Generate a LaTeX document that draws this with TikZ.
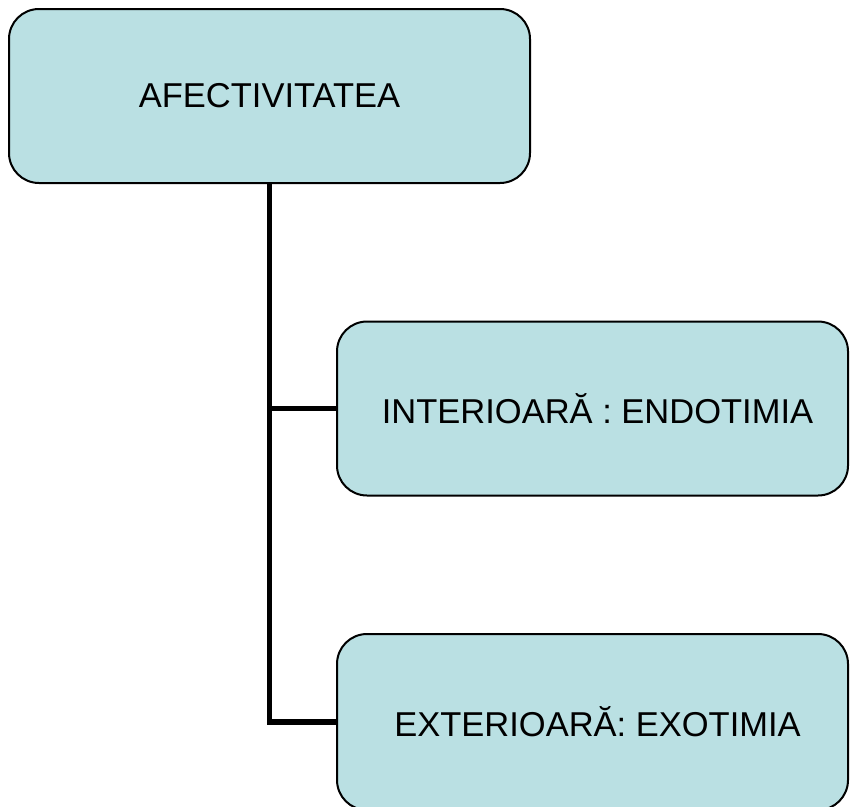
\documentclass[tikz,border=0pt]{standalone}
\usepackage{fontspec}
\setmainfont{Liberation Sans}
\definecolor{boxfill}{RGB}{186,224,227}
\begin{document}
\begin{tikzpicture}[x=1pt,y=-1pt,
  box/.style={draw=black,line width=2pt,fill=boxfill,rounded corners=30pt,
    minimum width=#1,minimum height=174pt,inner sep=0pt,
    font=\fontsize{34.5}{40}\selectfont},
  link/.style={line width=5.5pt,draw=black}]
\useasboundingbox (0,0) rectangle (850,806);
\node[box=521pt] (top) at (269.5,96) {AFECTIVITATEA};
\node[box=511pt] (mid) at (592.5,408.5) {\hspace*{10pt}INTERIOARĂ : ENDOTIMIA};
\node[box=511pt,minimum height=176pt] (bot) at (592.5,722) {\hspace*{10pt}EXTERIOARĂ: EXOTIMIA};
\draw[link] (top.south) |- (mid.west);
\draw[link] (top.south) |- (bot.west);
\end{tikzpicture}
\end{document}
